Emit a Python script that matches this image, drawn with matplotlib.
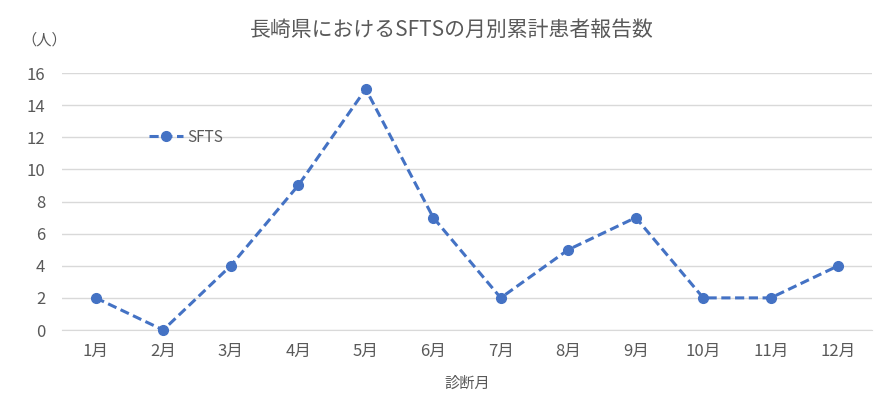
import matplotlib
matplotlib.use("Agg")
import matplotlib.pyplot as plt

plt.rcParams['font.family'] = ['Noto Sans CJK JP', 'DejaVu Sans']

months = ['1月', '2月', '3月', '4月', '5月', '6月', '7月', '8月', '9月', '10月', '11月', '12月']
sfts_counts = [2, 0, 4, 9, 15, 7, 2, 5, 7, 2, 2, 4]
y_ticks = [0, 2, 4, 6, 8, 10, 12, 14, 16]

text_color = '#595959'
line_color = '#4472C4'

fig = plt.figure(figsize=(8.93, 3.99), dpi=100)
ax = fig.add_axes([0.0694, 0.1729, 0.9071, 0.6441])

x = list(range(len(months)))
ax.plot(x, sfts_counts, color=line_color, linewidth=2.2, linestyle=(0, (3, 1.5)),
        marker='o', markersize=7, label='SFTS', clip_on=False, zorder=3)

ax.set_xlim(-0.5, len(months) - 0.5)
ax.set_ylim(0, 16)
ax.set_xticks(x)
ax.set_xticklabels(months)
ax.set_yticks(y_ticks)
ax.tick_params(axis='both', length=0, colors=text_color, labelsize=12)
ax.tick_params(axis='x', pad=9)
ax.tick_params(axis='y', pad=12)
ax.grid(axis='y', color='#D9D9D9', linewidth=1)
ax.set_axisbelow(True)
for side in ['top', 'right', 'left']:
    ax.spines[side].set_visible(False)
ax.spines['bottom'].set_color('#D9D9D9')

ax.set_xlabel('診断月', color=text_color, fontsize=11, labelpad=11)
fig.text(0.05, 0.90, '（人）', color=text_color, fontsize=11, ha='center', va='center')
fig.text(0.506, 0.925, '長崎県におけるSFTSの月別累計患者報告数', color=text_color,
         fontsize=15, ha='center', va='center')

leg = ax.legend(loc='center left', bbox_to_anchor=(0.1, 0.751), frameon=False,
                fontsize=11, handlelength=2.2, handletextpad=0.3, borderaxespad=0)
for t in leg.get_texts():
    t.set_color(text_color)

fig.savefig('out.png', dpi=100)
